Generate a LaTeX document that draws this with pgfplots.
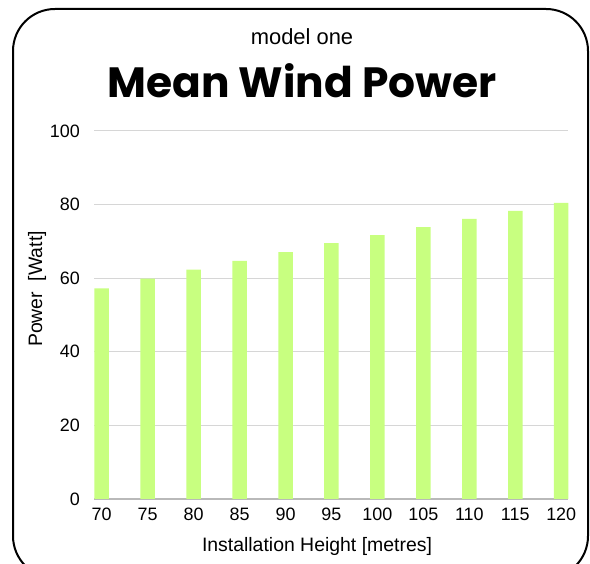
\documentclass[border=0pt]{standalone}
\usepackage{fontspec}
\setmainfont{Liberation Sans}
\newfontfamily\poppins{Poppins}
\usepackage{pgfplots}
\pgfplotsset{compat=1.18}
\definecolor{barc}{RGB}{200,255,128}
\definecolor{gridc}{RGB}{214,214,214}
\definecolor{basec}{RGB}{185,185,185}
\begin{document}
\begin{tikzpicture}[x=1bp,y=1bp]
\useasboundingbox (0,0) rectangle (590,564);
\begin{scope}
\clip (0,0) rectangle (590,564);
\draw[line width=2bp, rounded corners=42bp] (13,555) rectangle (588,-14);
\end{scope}
\node[font=\fontsize{22}{26}\selectfont] at (302,527) {model one};
\node[font=\poppins\bfseries\fontsize{42.5}{50}\selectfont] at (302,483) {Mean Wind Power};
\node[font=\fontsize{19.5}{23}\selectfont] at (317,18) {Installation Height [metres]};
\node[font=\fontsize{19.5}{23}\selectfont, rotate=90] at (37,275) {Power\ \ [Watt]};
\begin{axis}[
  at={(94bp,65bp)}, anchor=south west,
  scale only axis, width=474bp, height=368bp,
  xmin=69.16, xmax=120.74, ymin=0, ymax=100,
  xtick={70,75,...,120}, ytick={0,20,...,100},
  axis x line*=bottom, axis y line*=left,
  x axis line style={draw=basec, line width=1.5bp},
  y axis line style={draw=none},
  ymajorgrids, grid style={draw=gridc, line width=1bp},
  major tick length=0pt,
  tick label style={font=\fontsize{18}{21}\selectfont, inner sep=0pt},
  /pgf/number format/assume math mode=true,
  yticklabel style={anchor=east, xshift=-14bp},
  xticklabel style={anchor=north, yshift=-9bp},
  ybar, bar width=14.5bp,
  clip=false,
]
\addplot[fill=barc, draw=none] coordinates {
(70,57.2) (75,59.9) (80,62.3) (85,64.7) (90,67.1) (95,69.5)
(100,71.7) (105,73.9) (110,76.1) (115,78.3) (120,80.5)};
\end{axis}
\end{tikzpicture}
\end{document}
